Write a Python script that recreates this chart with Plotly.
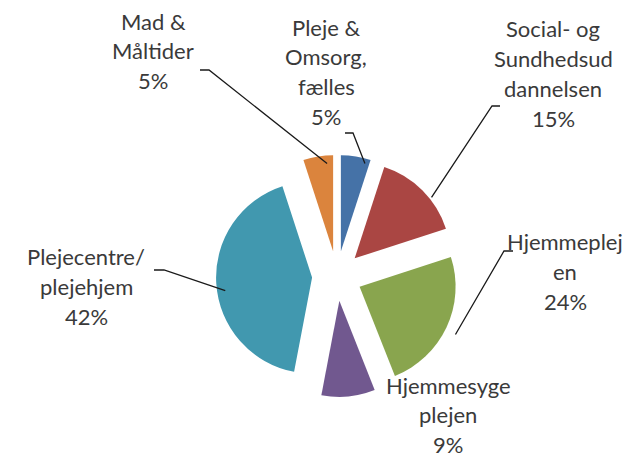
import math
import plotly.graph_objects as go

labels = ["Pleje & Omsorg, fælles", "Social- og Sundhedsuddannelsen", "Hjemmeplejen",
          "Hjemmesygeplejen", "Plejecentre/plejehjem", "Mad & Måltider"]
values = [5, 15, 24, 9, 42, 5]
label_lines = [["Pleje &", "Omsorg,", "fælles", "5%"],
               ["Social- og", "Sundhedsud", "dannelsen", "15%"],
               ["Hjemmeplej", "en", "24%"],
               ["Hjemmesyge", "plejen", "9%"],
               ["Plejecentre/", "plejehjem", "42%"],
               ["Mad &", "Måltider", "5%"]]
colors = ["#4572A7", "#AA4643", "#89A54E", "#71588F", "#4198AF", "#DB843D"]

W, H = 641, 459
cx, cy = 338, 275      # desired pie centre in px
r = 96                 # pie radius in px
pull = 0.26
half = r * (1 + pull)
dx_fix, dy_fix = -9, -7   # correction for plotly's placement
text_dy = -9              # correction for annotation vertical placement

# label first-line centre positions (px), line spacing, leader elbow (px)
label_pos = [(318, 28), (545, 30), (557, 243), (440, 386), (78, 258), (145, 22)]
line_gap = 29.7
elbows = [((337, 125), (345, 125)), ((492, 98), (484, 98)), ((505, 243), (496, 243)),
          None, ((146, 262), (156, 262)), ((192, 62), (201, 62))]

fig = go.Figure(go.Pie(
    labels=labels, values=values, sort=False, direction="clockwise", rotation=0,
    pull=[pull] * len(values), marker=dict(colors=colors, line=dict(width=0)),
    textinfo="none", hoverinfo="label+percent", showlegend=False,
    domain=dict(x=[(cx + dx_fix - half) / W, (cx + dx_fix + half) / W],
                y=[(H - cy - dy_fix - half) / H, (H - cy - dy_fix + half) / H]),
))

def px(x, y):
    return x / W, 1 - y / H

total = sum(values)
cum = 0
shapes = []
annotations = []
for i, v in enumerate(values):
    mid = (cum + v / 2) / total * 2 * math.pi
    cum += v
    ux, uy = math.sin(mid), -math.cos(mid)
    ax_, ay_ = cx + (r * pull + r) * ux, cy + (r * pull + r) * uy
    lx, ly = label_pos[i]
    for k, t in enumerate(label_lines[i]):
        X, Y = px(lx, ly + k * line_gap + text_dy)
        annotations.append(dict(x=X, y=Y, xref="paper", yref="paper", text=t,
                                showarrow=False, font=dict(family="Lato", size=22, color="#3a3a3a"),
                                align="center", xanchor="center", yanchor="middle"))
    if elbows[i] is not None:
        (e1x, e1y), (e2x, e2y) = elbows[i]
        p1, p2, p3 = px(e1x, e1y), px(e2x, e2y), px(ax_, ay_)
        shapes.append(dict(type="path", xref="paper", yref="paper",
                           path=f"M {p1[0]},{p1[1]} L {p2[0]},{p2[1]} L {p3[0]},{p3[1]}",
                           line=dict(color="#1a1a1a", width=1.3)))

fig.update_layout(width=W, height=H, margin=dict(l=0, r=0, t=0, b=0),
                  paper_bgcolor="white", plot_bgcolor="white",
                  shapes=shapes, annotations=annotations)
fig.write_html("out.html")
